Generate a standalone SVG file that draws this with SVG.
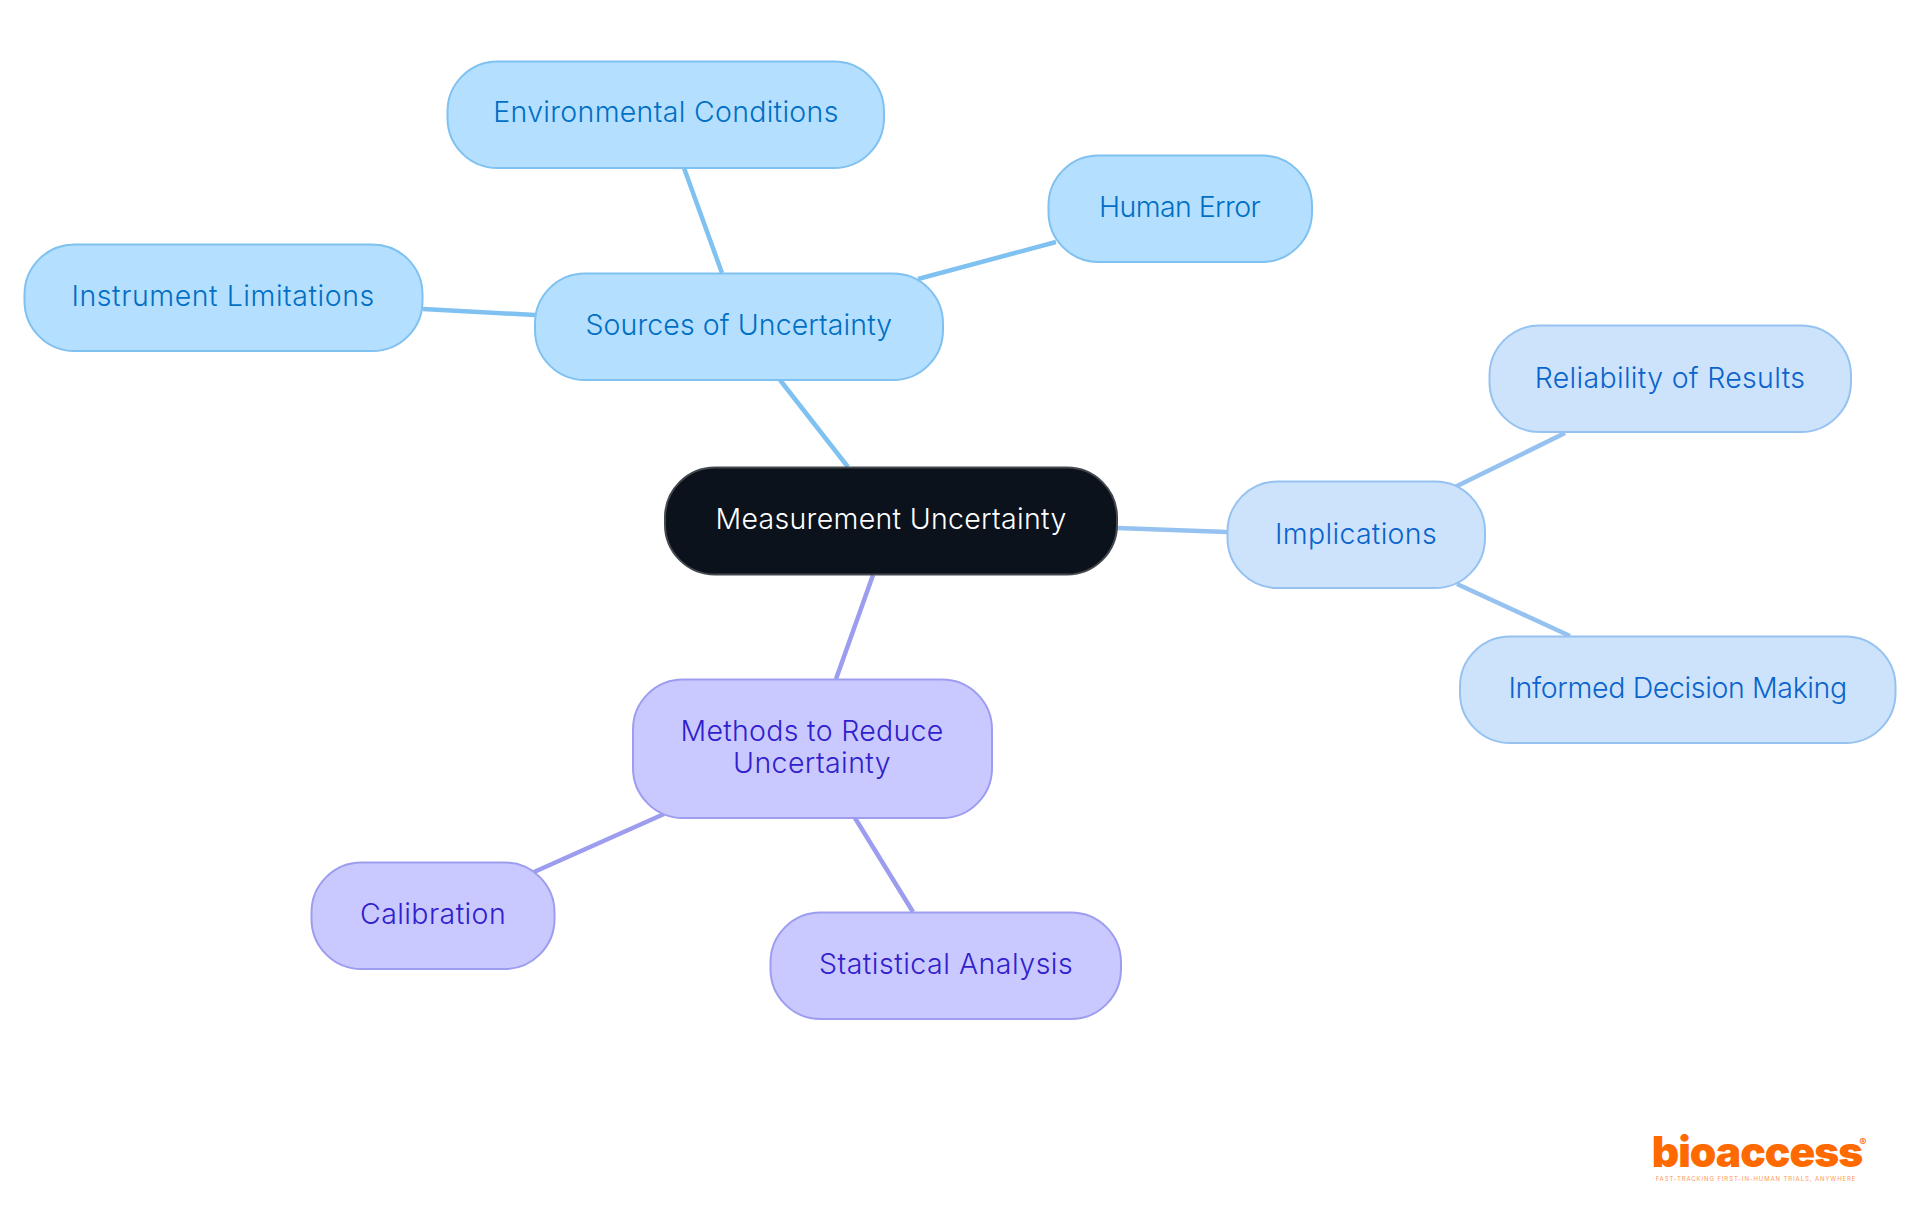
<svg xmlns="http://www.w3.org/2000/svg" width="1920" height="1215" viewBox="0 0 1920 1215">
<style>
text{font-family:"Inter","Noto Sans",sans-serif;font-size:28.5px;font-weight:300;letter-spacing:.3px;text-anchor:middle}
.e{fill:none;stroke-width:4.5}
.n{stroke-width:2}
.a{fill:#b5dfff;stroke:#7fc1f0}text.a{fill:#006fc4;stroke:none}
.b{fill:#cde3fc;stroke:#95c2f0}text.b{fill:#0a64cc;stroke:none}
.c{fill:#c9c9ff;stroke:#9d9df0}text.c{fill:#3020cc;stroke:none}
</style>
<rect width="1920" height="1215" fill="#fff"/>
<g id="connectors">
<path class="e" stroke="#7fc1f0" d="M848 467L780 380M722 273L684 168M918 279L1056 242M535 315L423 309"/>
<path class="e" stroke="#95c2f0" d="M1117 528L1227 532M1455 487L1565 433M1457 584L1570 636"/>
<path class="e" stroke="#9d9df0" d="M873 575L836 679M664 814L534 872M855 818L913 912"/>
</g>
<g id="n-center"><rect x="665" y="467.500" width="452" height="107" rx="50" fill="#0b121b" stroke="#45494f" stroke-width="2"/><text x="891" y="529" fill="#fff">Measurement Uncertainty</text></g>
<g id="n-sources"><rect class="n a" x="535" y="273.500" width="408" height="106.500" rx="50"/><text class="a" x="739" y="335" textLength="307">Sources of Uncertainty</text></g>
<g id="n-env"><rect class="n a" x="447.500" y="61.500" width="436.500" height="106.500" rx="50"/><text class="a" x="666" y="122">Environmental Conditions</text></g>
<g id="n-human"><rect class="n a" x="1048.500" y="155.500" width="263.500" height="106.500" rx="50"/><text class="a" x="1180" y="217" textLength="162">Human Error</text></g>
<g id="n-instrument"><rect class="n a" x="24.500" y="244.500" width="398" height="106.500" rx="50"/><text class="a" x="223" y="306" textLength="303">Instrument Limitations</text></g>
<g id="n-implications"><rect class="n b" x="1227.500" y="481.500" width="257.500" height="106.500" rx="50"/><text class="b" x="1356" y="544">Implications</text></g>
<g id="n-reliability"><rect class="n b" x="1489.500" y="325.500" width="361.500" height="106.500" rx="50"/><text class="b" x="1670" y="388">Reliability of Results</text></g>
<g id="n-informed"><rect class="n b" x="1460" y="636.500" width="435.500" height="106.500" rx="50"/><text class="b" x="1678" y="698" textLength="339">Informed Decision Making</text></g>
<g id="n-methods"><rect class="n c" x="633" y="679.500" width="359" height="138.500" rx="50"/><text class="c" x="812" y="741">Methods to Reduce</text><text class="c" x="812" y="773" textLength="158">Uncertainty</text></g>
<g id="n-calibration"><rect class="n c" x="311.500" y="862.500" width="243" height="106.500" rx="50"/><text class="c" x="433" y="924" textLength="146">Calibration</text></g>
<g id="n-statistical"><rect class="n c" x="770.500" y="912.500" width="350.500" height="106.500" rx="50"/><text class="c" x="946" y="974" textLength="254">Statistical Analysis</text></g>
<g id="logo">
<text x="1757" y="1167" style="font-size:42.500px;font-weight:900;fill:#ff6a00;letter-spacing:-1px">bioaccess</text>
<text x="1863" y="1146" style="font-size:11px;font-weight:700;fill:#ff6a00;letter-spacing:0">®</text>
<text x="1756" y="1181" style="font-size:6px;font-weight:400;fill:#ff9a55;letter-spacing:.9px">FAST-TRACKING FIRST-IN-HUMAN TRIALS, ANYWHERE</text>
</g>
</svg>
